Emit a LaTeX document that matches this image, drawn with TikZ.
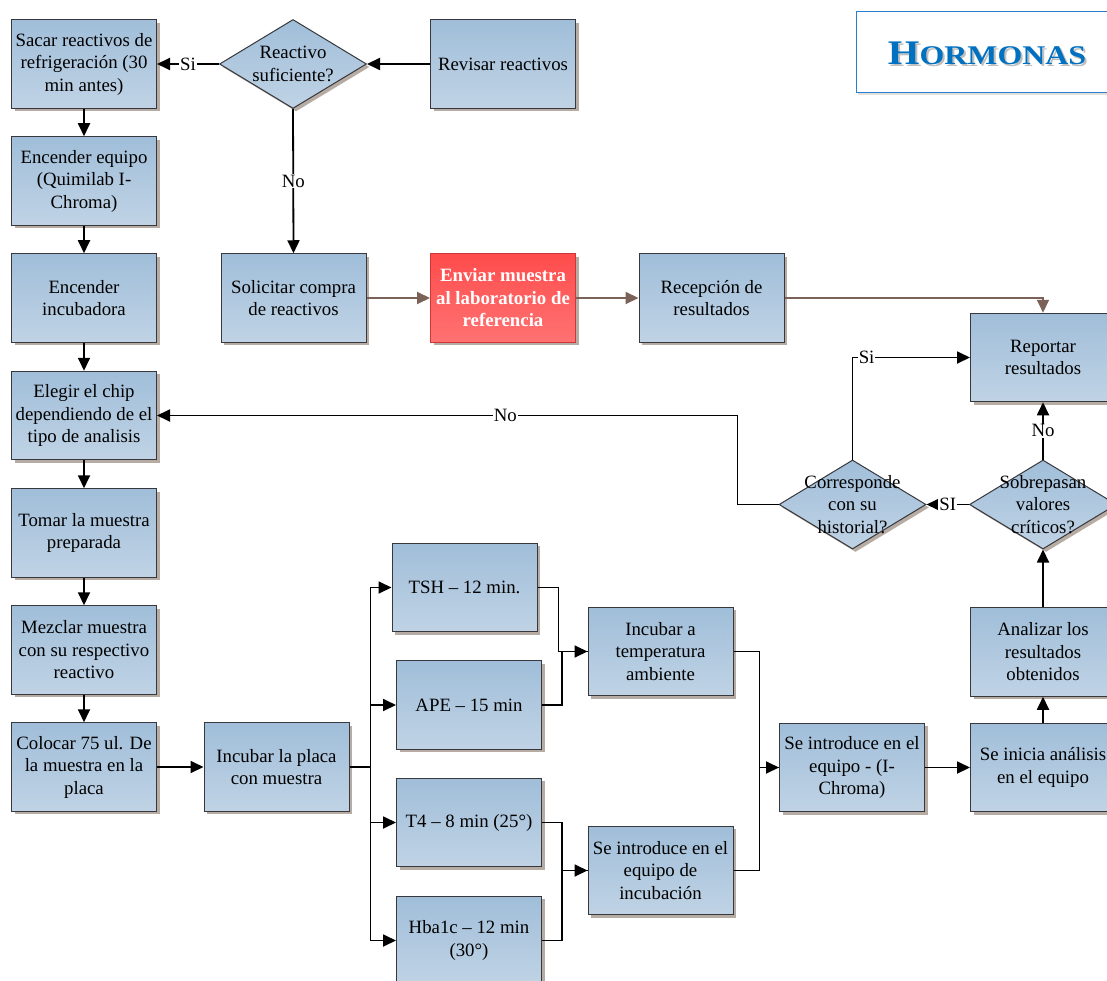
\documentclass[tikz,border=0pt]{standalone}
\usepackage{fontspec}
\setmainfont{Liberation Serif}
\usetikzlibrary{arrows.meta,shapes.geometric,shadows,calc}
\definecolor{boxtop}{RGB}{160,190,217}
\definecolor{boxbot}{RGB}{192,211,229}
\definecolor{boxborder}{RGB}{55,55,60}
\definecolor{shadowc}{RGB}{182,172,164}
\definecolor{redtop}{RGB}{255,76,76}
\definecolor{redbot}{RGB}{255,114,114}
\definecolor{redborder}{RGB}{205,55,55}
\definecolor{brownline}{RGB}{122,98,88}
\definecolor{titleblue}{RGB}{0,112,192}
\definecolor{titleborder}{RGB}{40,125,205}
\newcommand\bodyfont{\fontsize{18.8}{22.5}\selectfont}
\begin{document}
\begin{tikzpicture}[x=1pt,y=-1pt,
  flowbox/.style={rectangle, draw=boxborder, line width=1pt, top color=boxtop, bottom color=boxbot,
    minimum width=145pt, minimum height=88.5pt, inner sep=0pt, align=center, font=\bodyfont,
    drop shadow={shadow xshift=3pt, shadow yshift=-3pt, fill=shadowc, opacity=1}},
  redbox/.style={flowbox, draw=redborder, top color=redtop, bottom color=redbot, text=white},
  decision/.style={diamond, draw=boxborder, line width=1pt, top color=boxtop, bottom color=boxbot,
    minimum width=147pt, minimum height=89pt, inner sep=0pt,
    drop shadow={shadow xshift=3pt, shadow yshift=-3pt, fill=shadowc, opacity=1}},
  dtext/.style={align=center, font=\bodyfont, inner sep=0pt},
  lbl/.style={fill=white, font=\bodyfont, inner sep=1pt},
  plain/.style={draw=black, line width=1.8pt},
  arr/.style={plain, -{Triangle[length=13pt,width=12pt]}},
  brarr/.style={draw=brownline, line width=1.9pt, -{Triangle[length=13pt,width=12pt]}}
]
\useasboundingbox (0,0) rectangle (1107,981);

% title
\node[draw=titleborder, line width=1pt, minimum width=259pt, minimum height=81pt, inner sep=0pt,
  drop shadow={shadow xshift=2pt, shadow yshift=-2pt, fill=black!12, opacity=1}, fill=white]
  (titlebox) at (985.5,52.5) {};
\node[text=black!25, inner sep=0pt] (titleshadow) at (989,55)
  {\scalebox{1.18}[1]{\bfseries{\fontsize{34.5}{34.5}\selectfont H}{\fontsize{27}{27}\selectfont ORMONAS}}};
\node[text=titleblue, inner sep=0pt] (title) at (987,53)
  {\scalebox{1.18}[1]{\bfseries{\fontsize{34.5}{34.5}\selectfont H}{\fontsize{27}{27}\selectfont ORMONAS}}};

% left column
\node[flowbox] (sacar) at (84,64) {Sacar reactivos de\\refrigeración (30\\min antes)};
\node[flowbox] (encequipo) at (84,181) {Encender equipo\\(Quimilab I-\\Chroma)};
\node[flowbox] (encinc) at (84,298) {Encender\\incubadora};
\node[flowbox] (elegir) at (84,415.5) {Elegir el chip\\dependiendo de el\\tipo de analisis};
\node[flowbox] (tomar) at (84,533) {Tomar la muestra\\preparada};
\node[flowbox] (mezclar) at (84,650) {Mezclar muestra\\con su respectivo\\reactivo};
\node[flowbox] (colocar) at (84,767) {Colocar 75 ul. De\\la muestra en la\\placa};

% top row
\node[decision] (d1) at (293,64) {};
\node[dtext] (d1t) at (293,64) {Reactivo\\suficiente?};
\node[flowbox] (revisar) at (503,64) {Revisar reactivos};
\node[flowbox] (solic) at (293.5,298) {Solicitar compra\\de reactivos};
\node[redbox] (enviar) at (503,298) {\bfseries Enviar muestra\\\bfseries al laboratorio de\\\bfseries referencia};
\node[flowbox] (recep) at (711.5,298) {Recepción de\\resultados};

% right side
\node[flowbox] (report) at (1043,357.5) {Reportar\\resultados};
\node[decision] (d2) at (852.5,504.5) {};
\node[dtext] (d2t) at (852.5,504.5) {Corresponde\\con su\\historial?};
\node[decision] (d3) at (1043,504.5) {};
\node[dtext] (d3t) at (1043,504.5) {Sobrepasan\\valores\\críticos?};
\node[flowbox] (anal) at (1043,652) {Analizar los\\resultados\\obtenidos};
\node[flowbox] (inicia) at (1043,767.5) {Se inicia análisis\\en el equipo};
\node[flowbox] (ichroma) at (852,767.5) {Se introduce en el\\equipo - (I-\\Chroma)};

% bottom middle
\node[flowbox] (placa) at (276.5,767) {Incubar la placa\\con muestra};
\node[flowbox] (tsh) at (464.5,587.5) {TSH – 12 min.};
\node[flowbox] (ape) at (469,705) {APE – 15 min};
\node[flowbox] (t4) at (469,822.5) {T4 – 8 min (25°)};
\node[flowbox] (hba) at (469,940.5) {Hba1c – 12 min\\(30°)};
\node[flowbox] (inctemp) at (660.5,651.5) {Incubar a\\temperatura\\ambiente};
\node[flowbox] (incub) at (660.5,870.5) {Se introduce en el\\equipo de\\incubación};

% connectors
\draw[arr] (revisar.west) -- (d1.east);
\draw[arr] (d1.west) -- node[lbl]{Si} (sacar.east);
\draw[arr] (d1.south) -- node[lbl]{No} (solic.north);
\draw[arr] (sacar.south) -- (encequipo.north);
\draw[arr] (encequipo.south) -- (encinc.north);
\draw[arr] (encinc.south) -- (elegir.north);
\draw[arr] (elegir.south) -- (tomar.north);
\draw[arr] (tomar.south) -- (mezclar.north);
\draw[arr] (mezclar.south) -- (colocar.north);
\draw[arr] (colocar.east) -- (placa.west);

\draw[plain] (placa.east) -- ++(21,0) coordinate (fork);
\draw[plain] (fork |- tsh.west) -- (fork |- hba.west);
\draw[arr] (fork) |- (tsh.west);
\draw[arr] (fork) |- (ape.west);
\draw[arr] (fork) |- (t4.west);
\draw[arr] (fork) |- (hba.west);

\draw[arr] (tsh.east) -- ++(21,0) |- (inctemp.west);
\draw[plain] (ape.east) -- ++(20,0) |- (inctemp.west);
\draw[arr] (t4.east) -- ++(20,0) |- (incub.west);
\draw[plain] (hba.east) -- ++(20,0) |- (incub.west);

\draw[arr] (inctemp.east) -- ++(26,0) |- (ichroma.west);
\draw[plain] (incub.east) -- ++(26,0) |- (ichroma.west);

\draw[arr] (ichroma.east) -- (inicia.west);
\draw[arr] (inicia.north) -- (anal.south);
\draw[arr] (anal.north) -- (d3.south);
\draw[arr] (d3.north) -- node[lbl]{No} (report.south);
\draw[arr] (d3.west) -- node[lbl]{SI} (d2.east);
\draw[arr] (d2.north) |- node[lbl, pos=0.56]{Si} (report.west);
\draw[arr] (d2.west) -- ++(-41,0) |- node[lbl, pos=0.7]{No} (elegir.east);

\draw[brarr] (solic.east) -- (enviar.west);
\draw[brarr] (enviar.east) -- (recep.west);
\draw[brarr] (recep.east) -| (report.north);
\end{tikzpicture}
\end{document}
